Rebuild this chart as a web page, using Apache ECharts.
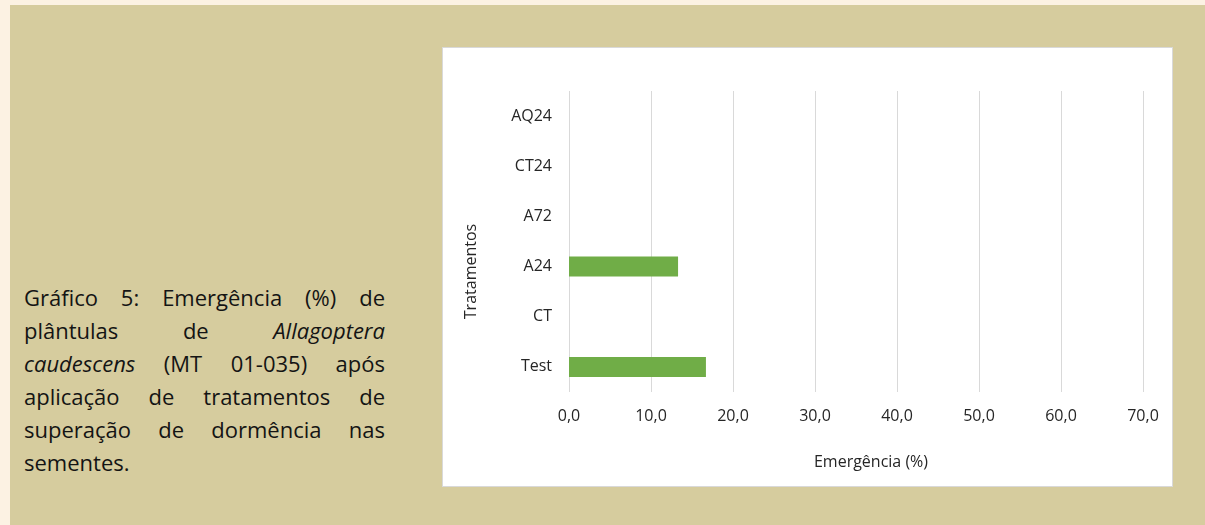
<!DOCTYPE html>
<html lang="pt">
<head>
<meta charset="utf-8">
<title>Gráfico 5 – Emergência (%)</title>
<script src="https://cdn.jsdelivr.net/npm/echarts@6/dist/echarts.min.js"></script>
<style>
  html, body { margin: 0; padding: 0; }
  body { width: 1205px; height: 525px; background: #fcf2e3; position: relative; overflow: hidden; }
  #panel { position: absolute; left: 10px; top: 5px; width: 1195px; height: 520px; background: #d6cc9e; }
  #caption {
    position: absolute; left: 24px; top: 281px; width: 361px;
    font-family: "Open Sans", "Noto Sans", sans-serif; font-size: 22px; line-height: 33px; color: #141414;
  }
  #caption .ln { text-align: justify; text-align-last: justify; white-space: nowrap; }
  #caption .ln.last { text-align-last: left; }
  #chart {
    position: absolute; left: 442px; top: 47px; width: 731px; height: 440px;
    background: #ffffff; border: 1px solid #d9d9d9; box-sizing: border-box;
  }
</style>
</head>
<body>
<div id="panel"></div>
<div id="caption">
  <div class="ln">Gráfico 5: Emergência (%) de</div>
  <div class="ln">plântulas de <i>Allagoptera</i></div>
  <div class="ln"><i>caudescens</i> (MT 01-035) após</div>
  <div class="ln">aplicação de tratamentos de</div>
  <div class="ln">superação de dormência nas</div>
  <div class="ln last">sementes.</div>
</div>
<div id="chart"></div>
<script>
// Treatments, listed from the bottom of the axis to the top
const categories = ['Test', 'CT', 'A24', 'A72', 'CT24', 'AQ24'];
// Seedling emergence (%) per treatment
const emergence = [16.7, 0, 13.3, 0, 0, 0];
// Value axis range and step
const axisMin = 0;
const axisMax = 70;
const axisStep = 10;

const labelFont = '"Open Sans", "Noto Sans", sans-serif';
const textColor = '#262626';

const chart = echarts.init(document.getElementById('chart'), null, { renderer: 'canvas' });
chart.setOption({
  animation: false,
  backgroundColor: 'transparent',
  grid: { left: 126, top: 43, width: 574, height: 301, containLabel: false },
  xAxis: {
    type: 'value',
    min: axisMin,
    max: axisMax,
    interval: axisStep,
    name: 'Emergência (%)',
    nameLocation: 'middle',
    nameGap: 62,
    nameTextStyle: { fontFamily: labelFont, fontSize: 16, color: textColor, padding: [0, 0, 0, 30] },
    axisLine: { show: false },
    axisTick: { show: false },
    axisLabel: {
      fontFamily: labelFont, fontSize: 16, color: textColor, margin: 16,
      formatter: v => v.toFixed(1).replace('.', ',')
    },
    splitLine: { show: true, lineStyle: { color: '#d9d9d9', width: 1 } }
  },
  yAxis: {
    type: 'category',
    data: categories,
    name: 'Tratamentos',
    nameLocation: 'middle',
    nameRotate: 90,
    nameGap: 90,
    nameTextStyle: { fontFamily: labelFont, fontSize: 16, color: textColor, padding: [0, 60, 0, 0] },
    axisLine: { show: false },
    axisTick: { show: false },
    axisLabel: { fontFamily: labelFont, fontSize: 16, color: textColor, margin: 17 },
    splitLine: { show: false }
  },
  series: [{
    type: 'bar',
    data: emergence,
    barCategoryGap: '60%',
    itemStyle: { color: '#70ad47' },
    label: { show: false }
  }]
});
</script>
</body>
</html>
